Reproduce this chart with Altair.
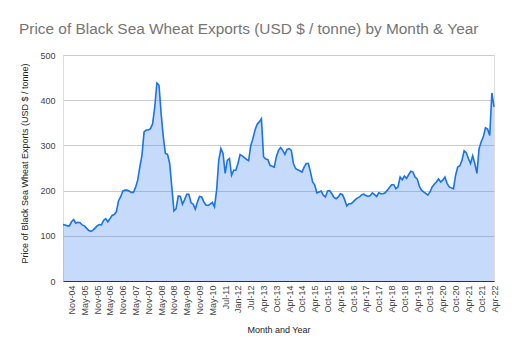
import altair as alt
import pandas as pd

months = [
    "Jul-04", "Aug-04", "Sep-04", "Oct-04", "Nov-04", "Dec-04",
    "Jan-05", "Feb-05", "Mar-05", "Apr-05", "May-05", "Jun-05", "Jul-05", "Aug-05", "Sep-05", "Oct-05", "Nov-05", "Dec-05",
    "Jan-06", "Feb-06", "Mar-06", "Apr-06", "May-06", "Jun-06", "Jul-06", "Aug-06", "Sep-06", "Oct-06", "Nov-06", "Dec-06",
    "Jan-07", "Feb-07", "Mar-07", "Apr-07", "May-07", "Jun-07", "Jul-07", "Aug-07", "Sep-07", "Oct-07", "Nov-07", "Dec-07",
    "Jan-08", "Feb-08", "Mar-08", "Apr-08", "May-08", "Jun-08", "Jul-08", "Aug-08", "Sep-08", "Oct-08", "Nov-08", "Dec-08",
    "Jan-09", "Feb-09", "Mar-09", "Apr-09", "May-09", "Jun-09", "Jul-09", "Aug-09", "Sep-09", "Oct-09", "Nov-09", "Dec-09",
    "Jan-10", "Feb-10", "Mar-10", "Apr-10", "May-10", "Jun-10", "Jul-10", "Aug-10", "Sep-10", "Oct-10",
    "Jul-11", "Aug-11", "Sep-11", "Oct-11", "Nov-11", "Dec-11",
    "Jan-12", "Feb-12", "Mar-12", "Apr-12", "May-12", "Jun-12", "Jul-12", "Aug-12", "Sep-12", "Oct-12", "Nov-12", "Dec-12",
    "Apr-13", "May-13", "Jun-13", "Jul-13", "Aug-13", "Sep-13", "Oct-13", "Nov-13", "Dec-13",
    "Jan-14", "Feb-14", "Mar-14", "Apr-14", "May-14", "Jun-14", "Jul-14", "Aug-14", "Sep-14", "Oct-14", "Nov-14", "Dec-14",
    "Jan-15", "Feb-15", "Mar-15", "Apr-15", "May-15", "Jun-15", "Jul-15", "Aug-15", "Sep-15", "Oct-15", "Nov-15", "Dec-15",
    "Jan-16", "Feb-16", "Mar-16", "Apr-16", "May-16", "Jun-16", "Jul-16", "Aug-16", "Sep-16", "Oct-16", "Nov-16", "Dec-16",
    "Jan-17", "Feb-17", "Mar-17", "Apr-17", "May-17", "Jun-17", "Jul-17", "Aug-17", "Sep-17", "Oct-17", "Nov-17", "Dec-17",
    "Jan-18", "Feb-18", "Mar-18", "Apr-18", "May-18", "Jun-18", "Jul-18", "Aug-18", "Sep-18", "Oct-18", "Nov-18", "Dec-18",
    "Jan-19", "Feb-19", "Mar-19", "Apr-19", "May-19", "Jun-19", "Jul-19", "Aug-19", "Sep-19", "Oct-19", "Nov-19", "Dec-19",
    "Jan-20", "Feb-20", "Mar-20", "Apr-20", "May-20", "Jun-20", "Jul-20", "Aug-20", "Sep-20", "Oct-20", "Nov-20", "Dec-20",
    "Jan-21", "Feb-21", "Mar-21", "Apr-21", "May-21", "Jun-21", "Jul-21", "Aug-21", "Sep-21", "Oct-21", "Nov-21", "Dec-21",
    "Jan-22", "Feb-22", "Mar-22", "Apr-22",
]

prices = [
    125, 124, 122, 122, 131, 136, 128, 130, 129, 124,
    122, 117, 112, 110, 112, 117, 122, 125, 124, 134,
    138, 131, 138, 145, 147, 153, 177, 186, 199, 201,
    201, 199, 196, 196, 207, 223, 252, 278, 330, 334,
    334, 337, 348, 385, 438, 433, 370, 319, 282, 280,
    260, 208, 155, 160, 188, 187, 170, 180, 192, 192,
    173, 170, 159, 175, 187, 186, 175, 168, 167, 170,
    174, 164, 201, 267, 293, 282, 238, 267, 271, 234,
    245, 245, 260, 280, 277, 273, 269, 266, 300, 315,
    334, 347, 352, 359, 275, 270, 269, 256, 254, 252,
    275, 289, 295, 289, 280, 291, 293, 289, 260, 249,
    246, 244, 241, 252, 260, 260, 241, 219, 212, 195,
    197, 199, 190, 186, 199, 200, 193, 185, 182, 186,
    193, 191, 180, 166, 171, 171, 175, 180, 184, 186,
    191, 192, 189, 187, 189, 195, 191, 187, 195, 193,
    193, 195, 201, 207, 213, 213, 204, 208, 230, 224,
    232, 227, 235, 243, 241, 230, 226, 210, 201, 197,
    194, 190, 197, 208, 214, 219, 226, 219, 223, 230,
    216, 208, 206, 204, 234, 252, 255, 267, 288, 284,
    271, 260, 277, 260, 238, 293, 308, 319, 339, 336,
    322, 416, 385,
]

tick_labels = [
    "Nov-04", "May-05", "Nov-05", "May-06", "Nov-06", "May-07", "Nov-07", "May-08",
    "Nov-08", "May-09", "Nov-09", "May-10", "Jul-11", "Jan-12", "Jul-12", "Apr-13",
    "Oct-13", "Apr-14", "Oct-14", "Apr-15", "Oct-15", "Apr-16", "Oct-16", "Apr-17",
    "Oct-17", "Apr-18", "Oct-18", "Apr-19", "Oct-19", "Apr-20", "Oct-20", "Apr-21",
    "Oct-21", "Apr-22",
]

df = pd.DataFrame({"month": months, "price": prices})

FONT = "Liberation Sans"

x_enc = alt.X(
    "month:N",
    sort=months,
    scale=alt.Scale(type="point", padding=0),
    axis=alt.Axis(
        values=tick_labels,
        title="Month and Year",
        labelAngle=-90,
        labelAlign="right",
        labelBaseline="middle",
        labelFontSize=9,
        labelColor="#444444",
        labelFont=FONT,
        labelPadding=4,
        labelOverlap=False,
        ticks=False,
        grid=False,
        domain=True,
        domainColor="#333333",
        domainWidth=1,
        titleFont=FONT,
        titleFontSize=9,
        titleFontWeight="normal",
        titleColor="#222222",
        titleY=48,
        titleBaseline="middle",
    ),
)

y_enc = alt.Y(
    "price:Q",
    scale=alt.Scale(domain=[0, 500], nice=False),
    axis=alt.Axis(
        values=[0, 100, 200, 300, 400, 500],
        title="Price of Black Sea Wheat Exports (USD $ / tonne)",
        labelFontSize=9,
        labelColor="#444444",
        labelFont=FONT,
        labelPadding=8,
        ticks=False,
        domain=False,
        grid=True,
        gridColor="#cccccc",
        gridWidth=1,
        titleFont=FONT,
        titleFontSize=9,
        titleFontWeight="normal",
        titleColor="#222222",
        titleX=-39,
        titleY=108,
        titleBaseline="middle",
        titleAlign="center",
    ),
)

chart = (
    alt.Chart(df)
    .mark_area(
        line={"color": "#1a73e8", "strokeWidth": 1.6},
        color="#4285f4",
        fillOpacity=0.3,
    )
    .encode(x=x_enc, y=y_enc)
    .properties(
        width=431,
        height=226,
        padding={"left": 55, "top": 47, "right": 10, "bottom": 70},
        autosize=alt.AutoSizeParams(type="none"),
        title=alt.TitleParams(
            text="Price of Black Sea Wheat Exports (USD $ / tonne) by Month & Year",
            anchor="start",
            frame="group",
            dx=-44,
            fontSize=15.4,
            font=FONT,
            fontWeight="normal",
            color="#757575",
            offset=14,
        ),
    )
    .configure_view(stroke=None)
    .configure(background="white")
)

chart.save("out.html", embed_options={"renderer": "svg", "actions": False})
